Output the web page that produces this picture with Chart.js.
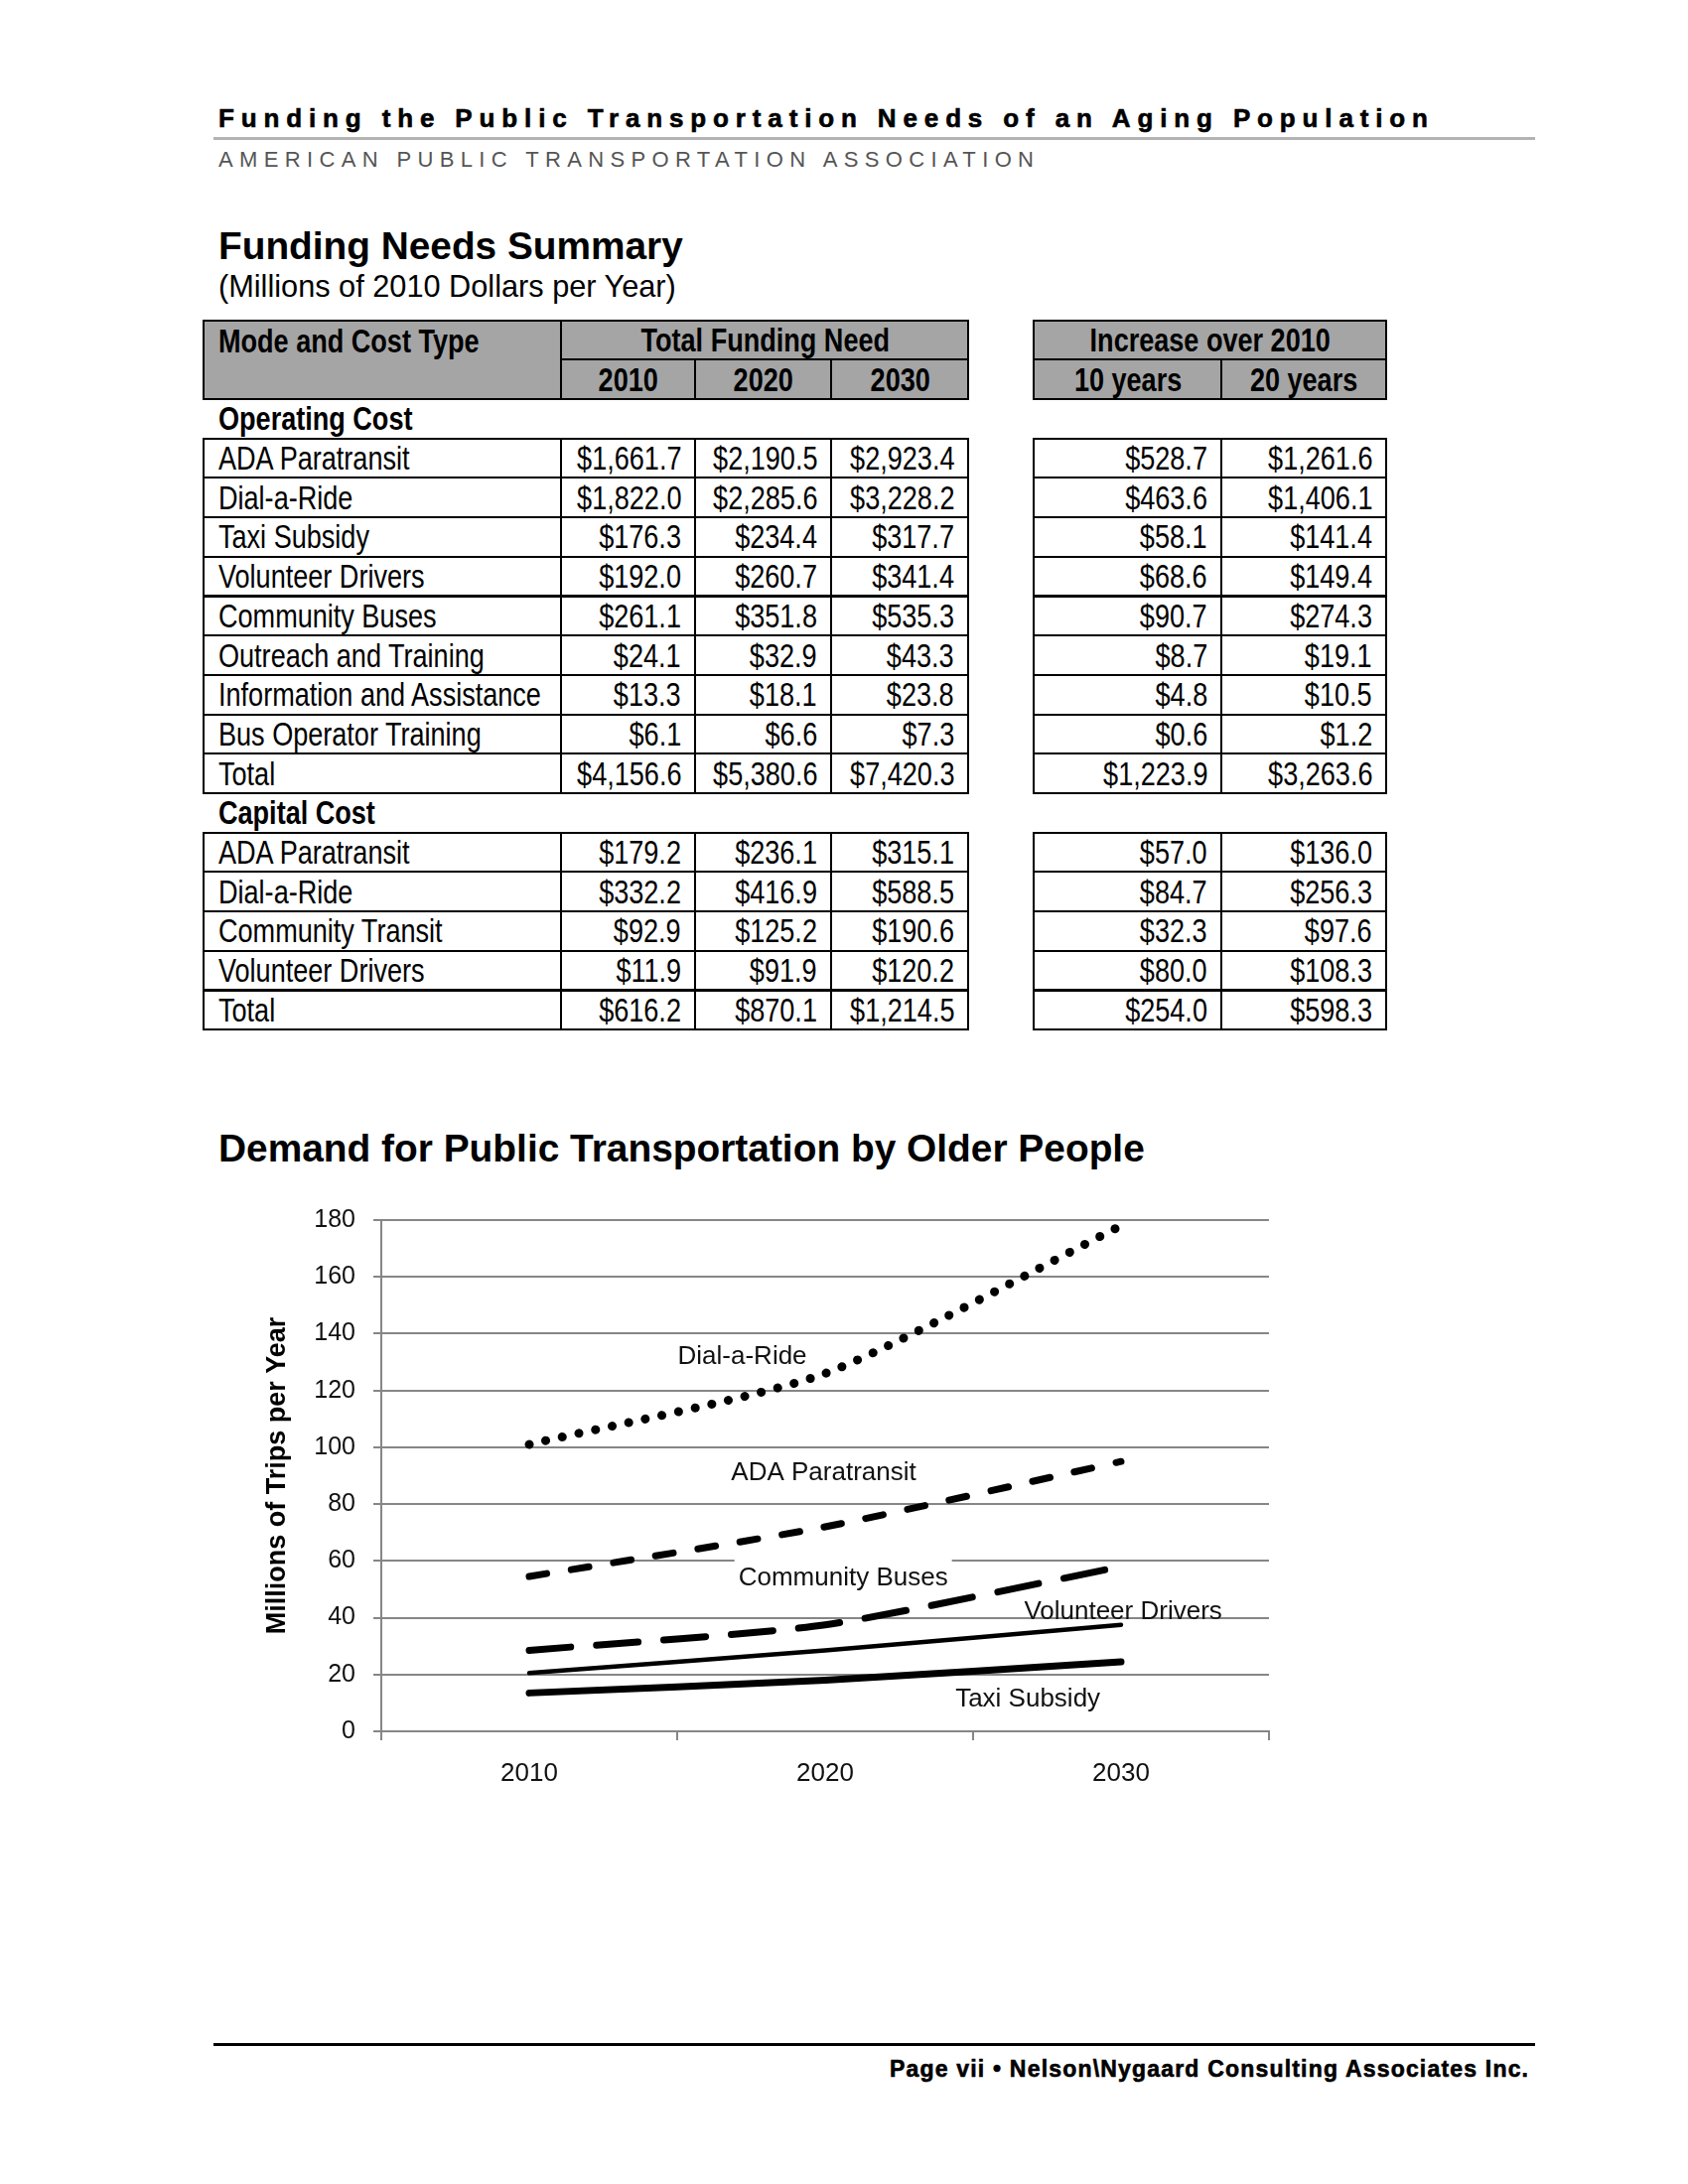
<!DOCTYPE html>
<html>
<head>
<meta charset="utf-8">
<script src="https://cdn.jsdelivr.net/npm/chart.js@4"></script>
<style>
  html,body{margin:0;padding:0;background:#fff;}
  body{width:1700px;height:2200px;position:relative;overflow:hidden;font-family:"Liberation Sans",Arial,sans-serif;}
  .cell{position:absolute;box-sizing:border-box;border:2px solid #000;display:flex;align-items:center;overflow:visible;white-space:nowrap;color:#000;}
  .cell span{display:inline-block;}
  #chart{position:absolute;left:200px;top:1196px;width:1100px;height:620px;}
</style>
</head>
<body>
<canvas id="chart" width="1100" height="620"></canvas>
<script>
// ---------------- DATA ----------------
const opModes = ["ADA Paratransit","Dial-a-Ride","Taxi Subsidy","Volunteer Drivers","Community Buses","Outreach and Training","Information and Assistance","Bus Operator Training","Total"];
const op2010  = [1661.7, 1822.0, 176.3, 192.0, 261.1, 24.1, 13.3, 6.1, 4156.6];
const op2020  = [2190.5, 2285.6, 234.4, 260.7, 351.8, 32.9, 18.1, 6.6, 5380.6];
const op2030  = [2923.4, 3228.2, 317.7, 341.4, 535.3, 43.3, 23.8, 7.3, 7420.3];
const opInc10 = [528.7, 463.6, 58.1, 68.6, 90.7, 8.7, 4.8, 0.6, 1223.9];
const opInc20 = [1261.6, 1406.1, 141.4, 149.4, 274.3, 19.1, 10.5, 1.2, 3263.6];

const capModes = ["ADA Paratransit","Dial-a-Ride","Community Transit","Volunteer Drivers","Total"];
const cap2010  = [179.2, 332.2, 92.9, 11.9, 616.2];
const cap2020  = [236.1, 416.9, 125.2, 91.9, 870.1];
const cap2030  = [315.1, 588.5, 190.6, 120.2, 1214.5];
const capInc10 = [57.0, 84.7, 32.3, 80.0, 254.0];
const capInc20 = [136.0, 256.3, 97.6, 108.3, 598.3];

const tableYears = ["2010","2020","2030"];
const increaseCols = ["10 years","20 years"];

const years = ["2010","2020","2030"];
const dialARide        = [101, 126, 178];
const adaParatransit   = [54.5, 72, 95];
const communityBuses   = [28.5, 37.5, 58];
const volunteerDrivers = [20.5, 28.5, 37.5];
const taxiSubsidy      = [13.5, 18, 24.5];
const yTicksMax = 180, yTicksStep = 20;

// series label annotations (category position, value)
const seriesLabels = [
  {text:"Dial-a-Ride",       x:0.72,  y:131.8},
  {text:"ADA Paratransit",   x:0.995, y:90.9},
  {text:"Community Buses",   x:1.061, y:53.8, box:true},
  {text:"Volunteer Drivers", x:2.007, y:42.1},
  {text:"Taxi Subsidy",      x:1.685, y:11.4}
];

// ---------------- HELPERS ----------------
const SANS = '"Liberation Sans", Arial, sans-serif';
function hasFont(name){
  const c=document.createElement('canvas').getContext('2d');
  c.font='40px monospace'; const a=c.measureText('abcdefghijklmnopqrstuvwxyz ABC').width;
  c.font='40px "'+name+'", monospace'; const b=c.measureText('abcdefghijklmnopqrstuvwxyz ABC').width;
  return Math.abs(a-b)>0.5;
}
const NARROW = hasFont('Liberation Sans Narrow');
const TFONT = NARROW ? '"Liberation Sans Narrow", "Liberation Sans", Arial, sans-serif' : SANS;
const TSCALE = NARROW ? 1 : 0.82;

function place(t,o){
  const d=document.createElement('div');
  d.textContent=t;
  d.style.cssText='position:absolute;white-space:nowrap;line-height:1;left:0;top:0;font-family:'+(o.family||SANS)+
    ';font-size:'+o.size+'px;font-weight:'+(o.weight||400)+';color:'+(o.color||'#000')+';'+
    (o.stroke?('-webkit-text-stroke:'+o.stroke+'px '+(o.color||'#000')+';'):'');
  document.body.appendChild(d);
  let ls=0;
  if(o.fitW){
    if(o.fitMode==='spacing'){
      const w=d.getBoundingClientRect().width;
      ls=(o.fitW-w)/(t.length-1);
      d.style.letterSpacing=ls+'px';
    } else {
      const w=d.getBoundingClientRect().width;
      d.style.fontSize=(o.size*o.fitW/w)+'px';
    }
  }
  const r=d.getBoundingClientRect();
  d.style.top=(o.cy-r.height/2)+'px';
  if(o.align==='right') d.style.left=(o.x-(r.width-ls))+'px';
  else d.style.left=o.x+'px';
  return d;
}
function rule(x,y,w,h,c){
  const d=document.createElement('div');
  d.style.cssText='position:absolute;left:'+x+'px;top:'+y+'px;width:'+w+'px;height:'+h+'px;background:'+c+';';
  document.body.appendChild(d);
}
function fmt(v){ return '$'+v.toLocaleString('en-US',{minimumFractionDigits:1,maximumFractionDigits:1}); }
function cell(x0,x1,y0,y1,text,o){
  o=o||{};
  const d=document.createElement('div');
  d.className='cell';
  d.style.left=(x0-1)+'px'; d.style.top=(y0-1)+'px';
  d.style.width=(x1-x0+2)+'px'; d.style.height=(y1-y0+2)+'px';
  if(o.bg) d.style.background=o.bg;
  const al=o.align||'right';
  d.style.justifyContent = al==='left'?'flex-start':(al==='center'?'center':'flex-end');
  d.style.padding = '0 '+(o.pr||13)+'px 0 '+(o.pl||14)+'px';
  if(o.valign==='top'){ d.style.alignItems='flex-start'; }
  document.body.appendChild(d);
  if(text!==null && text!==undefined){
    const s=document.createElement('span');
    s.textContent=text;
    s.style.fontFamily=TFONT; s.style.fontSize='33px'; s.style.fontWeight=o.bold?'700':'400';
    s.style.lineHeight= o.lh ? o.lh+'px' : '1';
    s.style.transform='scaleX('+TSCALE+')';
    s.style.transformOrigin = al==='left'?'left center':(al==='center'?'center center':'right center');
    d.appendChild(s);
  }
  return d;
}
function sectionLabel(t,cy){
  const s=document.createElement('div');
  s.textContent=t;
  s.style.cssText='position:absolute;left:220px;white-space:nowrap;line-height:1;font-family:'+TFONT+';font-size:33px;font-weight:700;transform:scaleX('+TSCALE+');transform-origin:left center;';
  document.body.appendChild(s);
  const r=s.getBoundingClientRect();
  s.style.top=(cy-r.height/2)+'px';
}

// ---------------- PAGE HEADER ----------------
place("Funding the Public Transportation Needs of an Aging Population",{x:220,cy:119,size:26,weight:700,stroke:0.6,fitW:1218,fitMode:'spacing',color:'#000'});
rule(215,137.5,1331,3,'#b3b3b3');
place("AMERICAN PUBLIC TRANSPORTATION ASSOCIATION",{x:220,cy:161,size:22,weight:400,family:TFONT,fitW:821,fitMode:'spacing',color:'#555'});
place("Funding Needs Summary",{x:220,cy:248,size:39,weight:700,fitW:468});
place("(Millions of 2010 Dollars per Year)",{x:220,cy:289,size:30,weight:400,fitW:461});

// ---------------- TABLE ----------------
const X = [205,565,700,837,975];
const XI = [1041,1230,1396];
const RH = 39.7, Y0 = 322.6;
const rowTop = i => Y0 + i*RH;
const HBG = '#a5a5a5';

cell(X[0],X[1],rowTop(0),rowTop(2),"Mode and Cost Type",{bg:HBG,align:'left',bold:true,valign:'top',pl:14,lh:RH});
cell(X[1],X[4],rowTop(0),rowTop(1),"Total Funding Need",{bg:HBG,align:'center',bold:true});
for(let j=0;j<3;j++) cell(X[1+j],X[2+j],rowTop(1),rowTop(2),tableYears[j],{bg:HBG,align:'center',bold:true});
cell(XI[0],XI[2],rowTop(0),rowTop(1),"Increase over 2010",{bg:HBG,align:'center',bold:true});
for(let j=0;j<2;j++) cell(XI[j],XI[j+1],rowTop(1),rowTop(2),increaseCols[j],{bg:HBG,align:'center',bold:true});

sectionLabel("Operating Cost", rowTop(2)+RH/2);
function dataRows(start, modes, a, b, c, d, e){
  for(let i=0;i<modes.length;i++){
    const y0=rowTop(start+i), y1=rowTop(start+i+1);
    cell(X[0],X[1],y0,y1,modes[i],{align:'left'});
    cell(X[1],X[2],y0,y1,fmt(a[i]));
    cell(X[2],X[3],y0,y1,fmt(b[i]));
    cell(X[3],X[4],y0,y1,fmt(c[i]));
    cell(XI[0],XI[1],y0,y1,fmt(d[i]));
    cell(XI[1],XI[2],y0,y1,fmt(e[i]));
  }
}
dataRows(3, opModes, op2010, op2020, op2030, opInc10, opInc20);
sectionLabel("Capital Cost", rowTop(12)+RH/2);
dataRows(13, capModes, cap2010, cap2020, cap2030, capInc10, capInc20);

// ---------------- CHART TITLE ----------------
place("Demand for Public Transportation by Older People",{x:220,cy:1157,size:38,weight:700,fitW:933});

// ---------------- FOOTER ----------------
rule(215,2057.5,1331,3,'#000');
place("Page vii \u2022 Nelson\\Nygaard Consulting Associates Inc.",{x:1539,cy:2084,size:23,weight:700,stroke:0.6,fitW:643,fitMode:'spacing',align:'right'});

// ---------------- CHART ----------------
const GRID = '#868686';
const labelPlugin = {
  id:'seriesLabels',
  beforeDatasetsDraw(chart){
    const {ctx, scales:{x,y}} = chart;
    ctx.save();
    ctx.font = '26px '+SANS;
    ctx.textAlign='center'; ctx.textBaseline='middle';
    for(const l of seriesLabels){
      const px=x.getPixelForValue(l.x), py=y.getPixelForValue(l.y);
      if(l.box){
        const w=ctx.measureText(l.text).width;
        ctx.fillStyle='#fff';
        ctx.fillRect(px-w/2-4, py-22, w+8, 42);
      }
      ctx.fillStyle='#111';
      ctx.fillText(l.text, px, py);
    }
    ctx.restore();
  }
};

new Chart(document.getElementById('chart'),{
  type:'line',
  data:{
    labels:years,
    datasets:[
      {label:'Dial-a-Ride', data:dialARide, borderColor:'#000', borderWidth:9, borderDash:[0.1,17], borderCapStyle:'round'},
      {label:'ADA Paratransit', data:adaParatransit, borderColor:'#000', borderWidth:7, borderDash:[18,25], borderCapStyle:'round'},
      {label:'Community Buses', data:communityBuses, borderColor:'#000', borderWidth:7, borderDash:[42,26], borderCapStyle:'round'},
      {label:'Volunteer Drivers', data:volunteerDrivers, borderColor:'#000', borderWidth:4.5, borderCapStyle:'round'},
      {label:'Taxi Subsidy', data:taxiSubsidy, borderColor:'#000', borderWidth:7, borderCapStyle:'round'}
    ]
  },
  options:{
    responsive:false, animation:false, devicePixelRatio:1,
    layout:{padding:{top:30,right:22,left:0,bottom:0}},
    plugins:{legend:{display:false}, tooltip:{enabled:false}},
    elements:{point:{radius:0,hoverRadius:0}, line:{tension:0.22, fill:false}},
    scales:{
      x:{
        type:'category', offset:true,
        grid:{display:true, drawOnChartArea:false, drawTicks:true, tickLength:9, offset:true, color:GRID, lineWidth:2},
        border:{display:true, color:GRID, width:2},
        ticks:{color:'#111', font:{family:SANS, size:26}, padding:18, maxRotation:0},
        afterFit(s){ s.height=72; }
      },
      y:{
        min:0, max:yTicksMax,
        ticks:{stepSize:yTicksStep, color:'#111', font:{family:SANS, size:25}, padding:18},
        grid:{color:GRID, lineWidth:2, tickLength:8, drawTicks:true},
        border:{display:true, color:GRID, width:2},
        title:{display:true, text:'Millions of Trips per Year', color:'#000', font:{family:SANS, size:27, weight:'bold'}, padding:{top:63,bottom:0}},
        afterFit(s){ s.width=184; }
      }
    }
  },
  plugins:[labelPlugin]
});
</script>
</body>
</html>
